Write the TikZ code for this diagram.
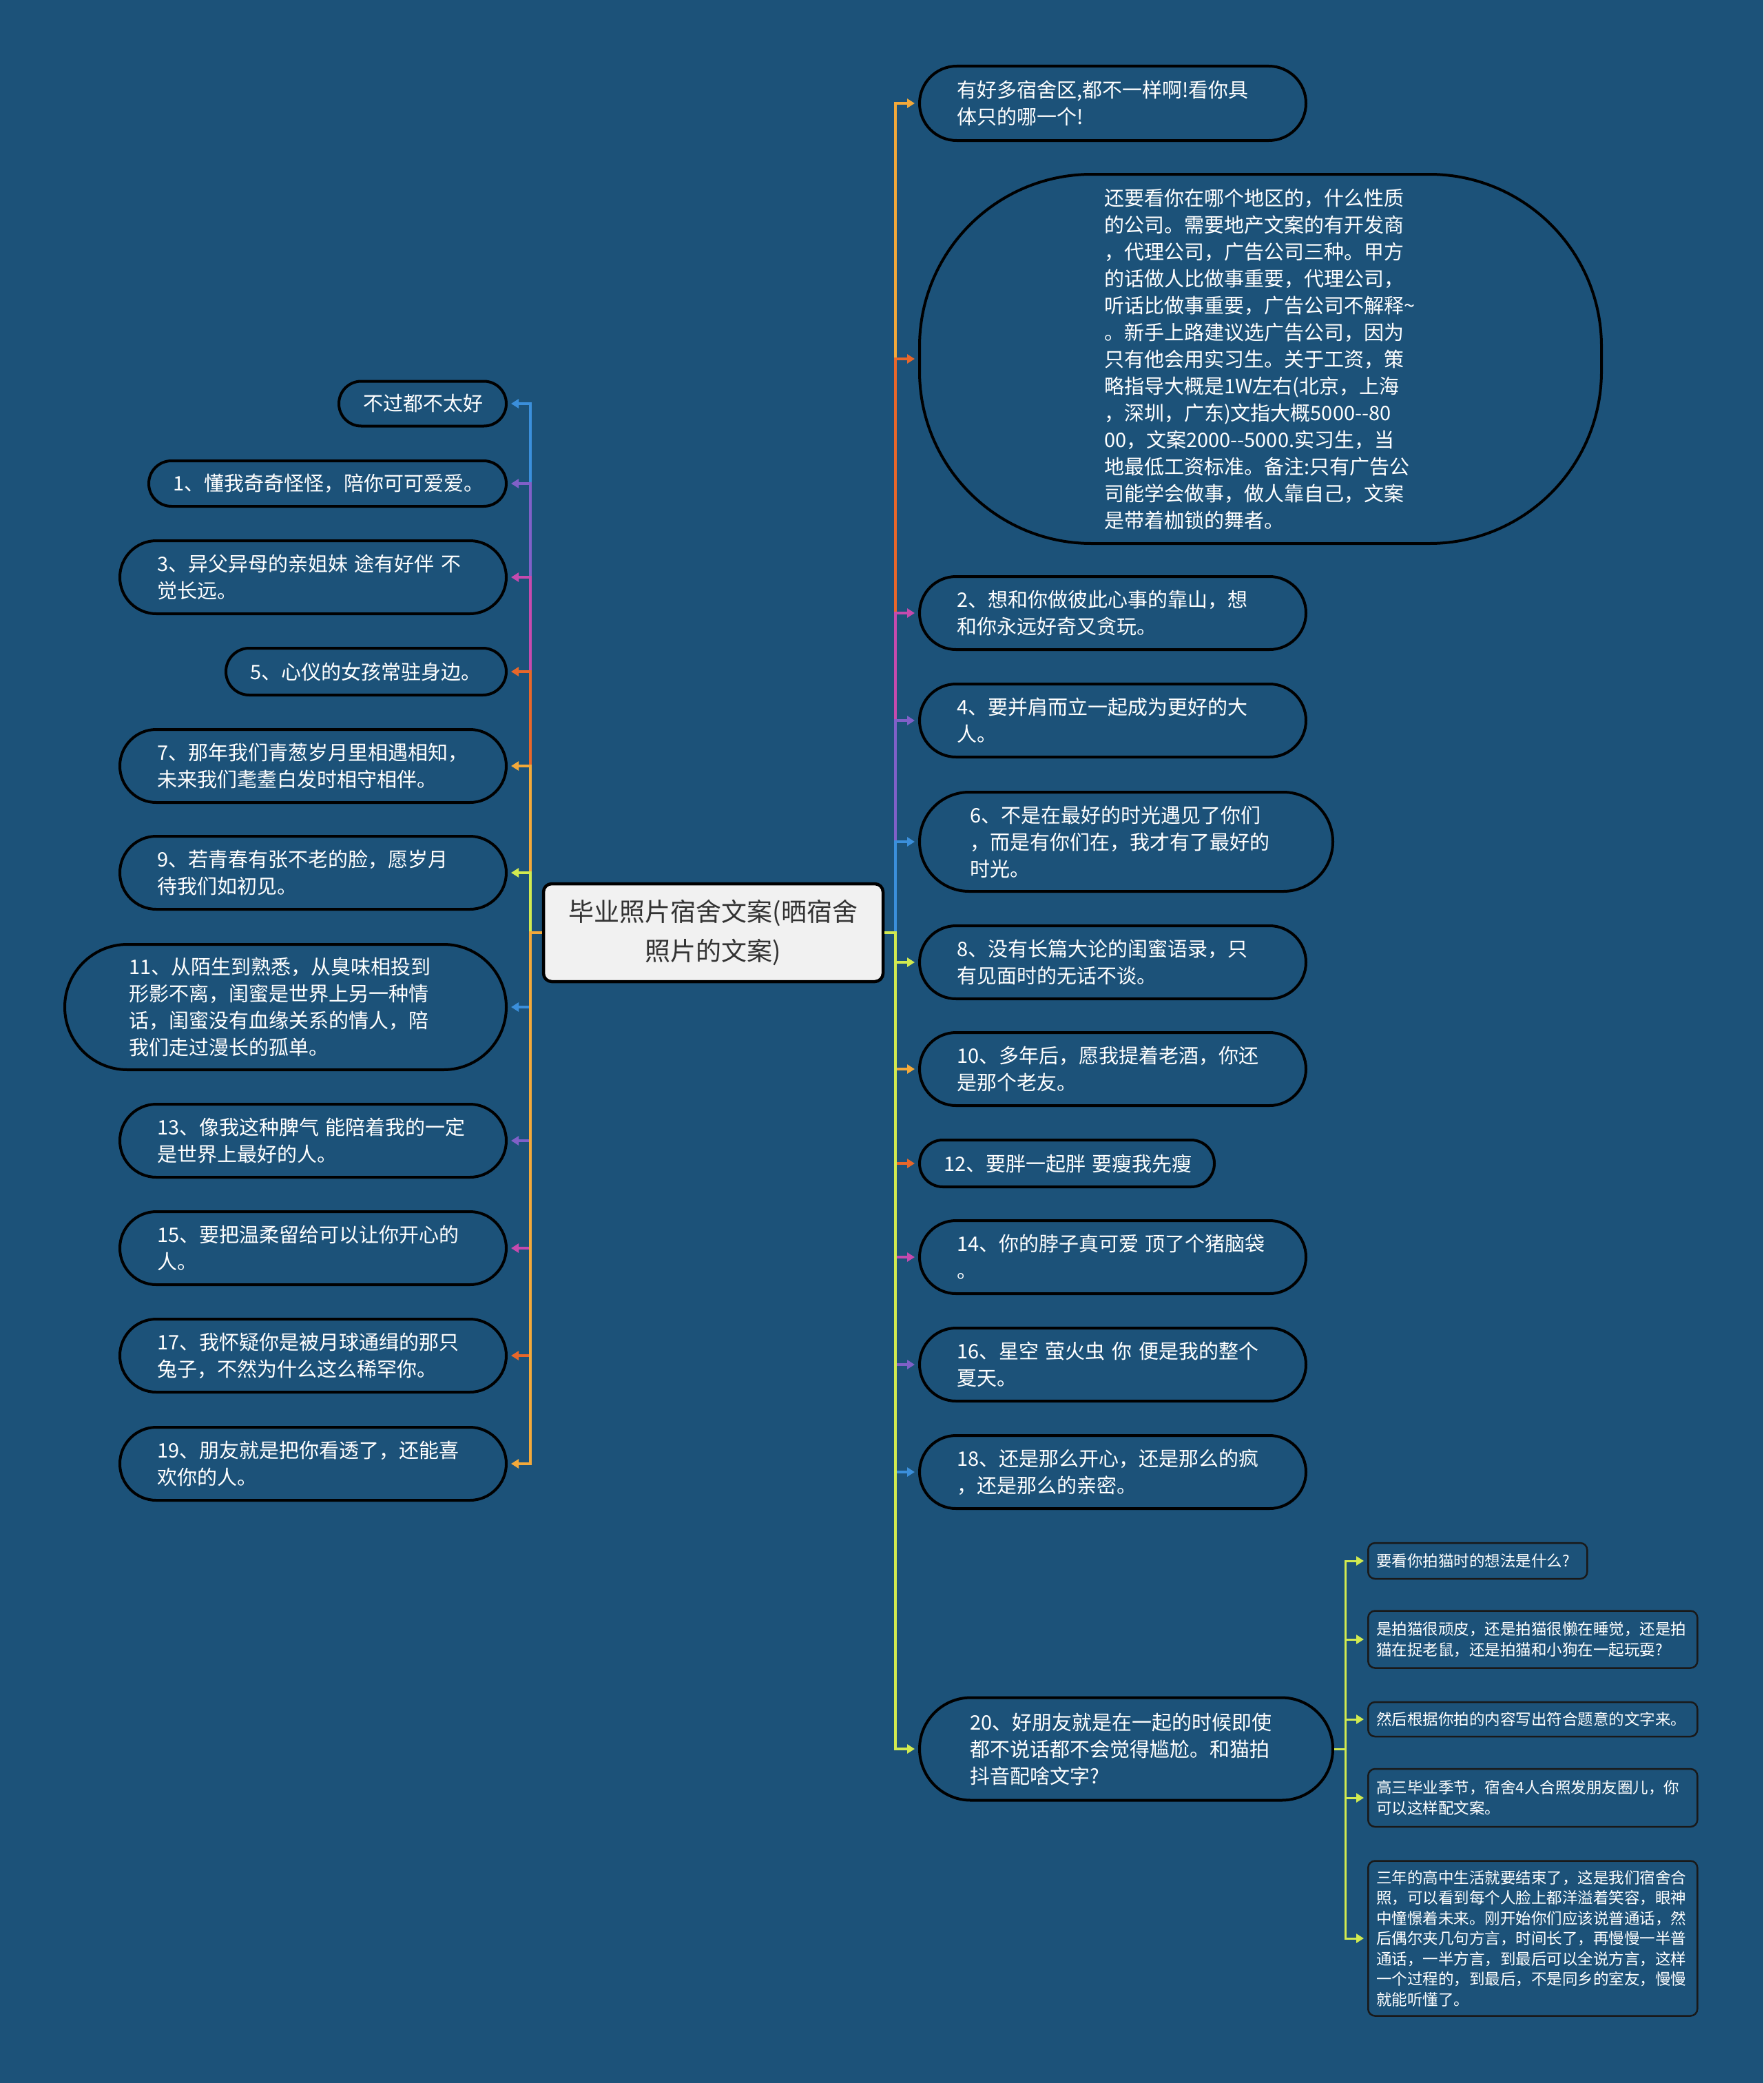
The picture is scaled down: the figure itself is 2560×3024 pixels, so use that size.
\documentclass[tikz,border=0pt]{standalone}
\usepackage{fontspec}
\usetikzlibrary{arrows.meta}
\newfontfamily\cjk{Noto Sans CJK SC}
\definecolor{bg}{HTML}{1C5279}
\definecolor{cOr}{HTML}{F3A93A}
\definecolor{cRd}{HTML}{E8672A}
\definecolor{cMg}{HTML}{C64AAE}
\definecolor{cPu}{HTML}{8060C8}
\definecolor{cBl}{HTML}{3B8FDB}
\definecolor{cGr}{HTML}{D2EA50}
\definecolor{rootfill}{HTML}{F1F1F1}
\definecolor{roottext}{HTML}{333333}
\tikzset{
  mbox/.style={draw=black, line width=4pt, fill=bg, text=white, align=left, inner ysep=0pt,
    font=\cjk\fontsize{29pt}{39pt}\selectfont},
  lbox/.style={mbox, anchor=east},
  rbox/.style={mbox, anchor=west},
  twoline/.style={inner xsep=54pt, text width=453pt, minimum width=561pt, minimum height=106pt, rounded corners=52.9pt},
  sbox/.style={draw=black!90, line width=2.5pt, fill=bg, text=white, align=left, inner ysep=0pt,
    inner xsep=12pt, anchor=west, rounded corners=10pt, font=\cjk\fontsize{22.5pt}{29.5pt}\selectfont},
  rootbox/.style={draw=black, line width=4.5pt, fill=rootfill, text=roottext, align=center,
    inner sep=0pt, rounded corners=12pt, font=\cjk\fontsize{37pt}{57pt}\selectfont},
  conn/.style={line width=4pt, -{Triangle[length=11pt,width=13pt]}, shorten >=5pt},
}
\begin{document}
\begin{tikzpicture}[x=1pt,y=-1pt]
\useasboundingbox (0,0) rectangle (2560,3024);
\fill[bg] (0,0) rectangle (2560,3024);

% root
\node[rootbox, minimum width=493pt, minimum height=142pt] (root) at (1035.5,1354) {毕业照片宿舍文案(晒宿舍\\照片的文案)};

% left nodes
\node[lbox, inner xsep=35pt, text width=173pt, minimum width=243pt, minimum height=65pt, rounded corners=32.4pt] (L0) at (737,586) {不过都不太好};
\node[lbox, inner xsep=35pt, text width=449pt, minimum width=519pt, minimum height=66pt, rounded corners=32.9pt] (L1) at (737,702) {1、懂我奇奇怪怪，陪你可可爱爱。};
\node[lbox, twoline] (L3) at (737,838) {3、异父异母的亲姐妹~途有好伴~不\\觉长远。};
\node[lbox, inner xsep=35pt, text width=337pt, minimum width=407pt, minimum height=68pt, rounded corners=33.9pt] (L5) at (737,975) {5、心仪的女孩常驻身边。};
\node[lbox, twoline] (L7) at (737,1112) {7、那年我们青葱岁月里相遇相知，\\未来我们耄耋白发时相守相伴。};
\node[lbox, twoline] (L9) at (737,1267) {9、若青春有张不老的脸，愿岁月\\待我们如初见。};
\node[lbox, inner xsep=93pt, text width=455pt, minimum width=641pt, minimum height=182pt, rounded corners=90.9pt] (L11) at (737,1462) {11、从陌生到熟悉，从臭味相投到\\形影不离，闺蜜是世界上另一种情\\话，闺蜜没有血缘关系的情人，陪\\我们走过漫长的孤单。};
\node[lbox, twoline] (L13) at (737,1656) {13、像我这种脾气~能陪着我的一定\\是世界上最好的人。};
\node[lbox, twoline] (L15) at (737,1812) {15、要把温柔留给可以让你开心的\\人。};
\node[lbox, twoline] (L17) at (737,1968) {17、我怀疑你是被月球通缉的那只\\兔子，不然为什么这么稀罕你。};
\node[lbox, twoline] (L19) at (737,2125) {19、朋友就是把你看透了，还能喜\\欢你的人。};

% right nodes
\node[rbox, twoline, minimum height=108pt, rounded corners=53.9pt] (R0) at (1333,150) {有好多宿舍区,都不一样啊!看你具\\体只的哪一个!};
\node[rbox, inner xsep=268pt, text width=454pt, minimum width=990pt, minimum height=536pt, rounded corners=250pt] (R1) at (1333,521) {还要看你在哪个地区的，什么性质\\的公司。需要地产文案的有开发商\\，代理公司，广告公司三种。甲方\\的话做人比做事重要，代理公司，\\听话比做事重要，广告公司不解释\string~\\。新手上路建议选广告公司，因为\\只有他会用实习生。关于工资，策\\略指导大概是1W左右(北京，上海\\，深圳，广东)文指大概5000-{}-80\\00，文案2000-{}-5000.实习生，当\\地最低工资标准。备注:只有广告公\\司能学会做事，做人靠自己，文案\\是带着枷锁的舞者。};
\node[rbox, twoline] (R2) at (1333,890) {2、想和你做彼此心事的靠山，想\\和你永远好奇又贪玩。};
\node[rbox, twoline] (R4) at (1333,1046) {4、要并肩而立一起成为更好的大\\人。};
\node[rbox, inner xsep=73pt, text width=454pt, minimum width=600pt, minimum height=144pt, rounded corners=71.9pt] (R6) at (1333,1222) {6、不是在最好的时光遇见了你们\\，而是有你们在，我才有了最好的\\时光。};
\node[rbox, twoline] (R8) at (1333,1397) {8、没有长篇大论的闺蜜语录，只\\有见面时的无话不谈。};
\node[rbox, twoline] (R10) at (1333,1552) {10、多年后，愿我提着老酒，你还\\是那个老友。};
\node[rbox, inner xsep=35pt, text width=358pt, minimum width=428pt, minimum height=68pt, rounded corners=33.9pt] (R12) at (1333,1689) {12、要胖一起胖~要瘦我先瘦};
\node[rbox, twoline] (R14) at (1333,1825) {14、你的脖子真可爱~顶了个猪脑袋\\。};
\node[rbox, twoline] (R16) at (1333,1981) {16、星空~萤火虫~你~便是我的整个\\夏天。};
\node[rbox, twoline] (R18) at (1333,2137) {18、还是那么开心，还是那么的疯\\，还是那么的亲密。};
\node[rbox, inner xsep=73pt, text width=454pt, minimum width=600pt, minimum height=149pt, rounded corners=74.4pt] (R20) at (1333,2539) {20、好朋友就是在一起的时候即使\\都不说话都不会觉得尴尬。和猫拍\\抖音配啥文字?};

% sub nodes
\node[sbox, text width=294pt, minimum width=318pt, minimum height=52pt] (S1) at (1985,2266) {要看你拍猫时的想法是什么?};
\node[sbox, text width=454pt, minimum width=478pt, minimum height=83pt] (S2) at (1985,2380) {是拍猫很顽皮，还是拍猫很懒在睡觉，还是拍\\猫在捉老鼠，还是拍猫和小狗在一起玩耍?};
\node[sbox, text width=454pt, minimum width=478pt, minimum height=50pt] (S3) at (1985,2496) {然后根据你拍的内容写出符合题意的文字来。};
\node[sbox, text width=454pt, minimum width=478pt, minimum height=84pt] (S4) at (1985,2610) {高三毕业季节，宿舍4人合照发朋友圈儿，你\\可以这样配文案。};
\node[sbox, text width=454pt, minimum width=478pt, minimum height=225pt] (S5) at (1985,2814) {三年的高中生活就要结束了，这是我们宿舍合\\照，可以看到每个人脸上都洋溢着笑容，眼神\\中憧憬着未来。刚开始你们应该说普通话，然\\后偶尔夹几句方言，时间长了，再慢慢一半普\\通话，一半方言，到最后可以全说方言，这样\\一个过程的，到最后，不是同乡的室友，慢慢\\就能听懂了。};

% trunk bends
\coordinate (LT) at (770,1354);
\coordinate (RT) at (1300,1354);
\coordinate (ST) at (1953,2539);

% left connectors (top to bottom)
\draw[conn, cBl] (root.west) -- (LT) |- (L0.east);
\draw[conn, cPu] (root.west) -- (LT) |- (L1.east);
\draw[conn, cMg] (root.west) -- (LT) |- (L3.east);
\draw[conn, cRd] (root.west) -- (LT) |- (L5.east);
\draw[conn, cOr] (root.west) -- (LT) |- (L7.east);
\draw[conn, cGr] (root.west) -- (LT) |- (L9.east);
\draw[conn, cBl] (root.west) -- (LT) |- (L11.east);
\draw[conn, cPu] (root.west) -- (LT) |- (L13.east);
\draw[conn, cMg] (root.west) -- (LT) |- (L15.east);
\draw[conn, cRd] (root.west) -- (LT) |- (L17.east);
\draw[conn, cOr] (root.west) -- (LT) |- (L19.east);

% right connectors (top to bottom)
\draw[conn, cOr] (root.east) -- (RT) |- (R0.west);
\draw[conn, cRd] (root.east) -- (RT) |- (R1.west);
\draw[conn, cMg] (root.east) -- (RT) |- (R2.west);
\draw[conn, cPu] (root.east) -- (RT) |- (R4.west);
\draw[conn, cBl] (root.east) -- (RT) |- (R6.west);
\draw[conn, cGr] (root.east) -- (RT) |- (R8.west);
\draw[conn, cOr] (root.east) -- (RT) |- (R10.west);
\draw[conn, cRd] (root.east) -- (RT) |- (R12.west);
\draw[conn, cMg] (root.east) -- (RT) |- (R14.west);
\draw[conn, cPu] (root.east) -- (RT) |- (R16.west);
\draw[conn, cBl] (root.east) -- (RT) |- (R18.west);
\draw[conn, cGr] (root.east) -- (RT) |- (R20.west);

% sub connectors
\foreach \s in {S1,S2,S3,S4,S5}
  \draw[conn, cGr, line width=3pt] (R20.east) -- (ST) |- (\s.west);
\end{tikzpicture}
\end{document}
